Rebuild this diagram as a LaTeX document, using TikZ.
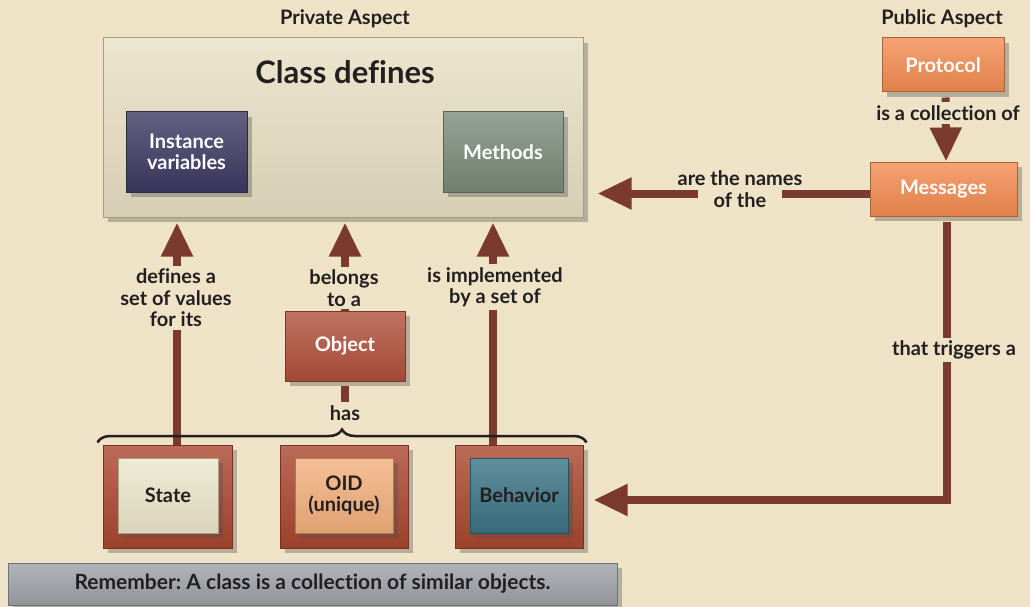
\documentclass[tikz,border=0pt]{standalone}
\usepackage{fontspec}
\setmainfont{Lato}[Ligatures=NoCommon]
\frenchspacing
\usetikzlibrary{arrows.meta,shadows,decorations.pathreplacing}

\definecolor{paper}{HTML}{EEE3C6}
\definecolor{ink}{HTML}{231F20}
\definecolor{rust}{HTML}{7B3A2F}
\definecolor{panel}{HTML}{E8E0C3}
\definecolor{navy}{HTML}{3C3962}
\definecolor{sage}{HTML}{7A8A7A}
\definecolor{tang}{HTML}{F38B50}
\definecolor{brick}{HTML}{B0503A}
\definecolor{rim}{HTML}{A9462F}
\definecolor{cream}{HTML}{ECE6CA}
\definecolor{peach}{HTML}{F2AF7B}
\definecolor{petrol}{HTML}{3B7385}
\definecolor{slate}{HTML}{9DA1A7}

\tikzset{
  txt/.style={font=\bfseries\fontsize{20}{21.5}\selectfont, text=ink, align=center},
  gap/.style={txt, fill=paper, inner sep=3pt},
  tile/.style={draw=#1!70!black, line width=1pt, top color=#1!80!white, bottom color=#1!92!black,
    drop shadow={shadow xshift=5pt, shadow yshift=-5pt, opacity=.35, fill=black!70},
    font=\bfseries\fontsize{20}{21.5}\selectfont, text=white, align=center},
  wire/.style={draw=rust, line width=8pt},
  conn/.style={wire, -{Triangle[length=34pt,width=30pt]}},
  brace/.style={draw=ink, line width=2.5pt, decorate, decoration={brace, amplitude=13pt}}
}

\begin{document}
\begin{tikzpicture}[x=1pt,y=-1pt]
\useasboundingbox[fill=paper] (0,0) rectangle (1030,607);

% private side
\node[txt] (private) at (345,19) {Private Aspect};
\node[tile=panel, minimum width=480pt, minimum height=179pt] (classbox) at (343,127.5) {};
\node[txt, font=\bfseries\fontsize{31}{33}\selectfont] (title) at (345,72) {Class defines};
\node[tile=navy, minimum width=121pt, minimum height=80pt] (instvars) at (186.5,152) {Instance\\variables};
\node[tile=sage, minimum width=120pt, minimum height=80pt] (methods) at (503,152) {Methods};

\node[tile=brick, minimum width=120pt, minimum height=70pt] (object) at (345,346) {Object};
\node[txt] (has) at (345,413) {has};

% what every object has
\node[tile=rim, minimum width=129pt, minimum height=103pt] (stateFrame) at (167.5,496.5) {};
\node[tile=cream, text=ink, minimum width=100pt, minimum height=75pt] (state) at (168,495.5) {State};
\node[tile=rim, minimum width=128pt, minimum height=103pt] (oidFrame) at (344,496.5) {};
\node[tile=peach, text=ink, minimum width=98pt, minimum height=75pt] (oid) at (344,495.5) {OID\\(unique)};
\node[tile=rim, minimum width=128pt, minimum height=103pt] (behaviorFrame) at (519,496.5) {};
\node[tile=petrol, text=ink, minimum width=98pt, minimum height=75pt] (behavior) at (519,495.5) {Behavior};

\node[tile=slate, text=ink, minimum width=609pt, minimum height=42pt,
  font=\bfseries\fontsize{21}{23}\selectfont] (remember) at (312.5,584)
  {Remember: A class is a collection of similar objects.};

% public side
\node[txt] (public) at (942,19) {Public Aspect};
\node[tile=tang, minimum width=122pt, minimum height=54pt] (protocol) at (943,65) {Protocol};
\node[tile=tang, minimum width=147pt, minimum height=54pt] (messages) at (943.5,189) {Messages};

% connectors
\draw[conn, shorten <=5pt] ([xshift=2.5pt]protocol.south) -- ([xshift=2.5pt]messages.north);
\draw[conn, shorten >=14pt] ([yshift=-4.5pt]messages.west) -- ([yshift=-4.5pt]messages.west -| classbox.east);
\draw[conn, shorten <=5pt, shorten >=10pt] ([xshift=3pt]messages.south) |- ([yshift=-3.5pt]behaviorFrame.east);
\draw[conn, shorten >=5pt] ([xshift=9.5pt]stateFrame.north) -- ([xshift=9.5pt]stateFrame.north |- classbox.south);
\draw[conn, shorten >=5pt] (object.north) -- (object.north |- classbox.south);
\draw[conn, shorten >=5pt] ([xshift=-26pt]behaviorFrame.north) -- ([xshift=-26pt]behaviorFrame.north |- classbox.south);
\draw[wire, shorten <=4pt] (object) -- (has);

% labels on the connectors
\node[gap] (collection) at (948,113) {is a collection of};
\node[gap, inner xsep=-20pt] (names) at (740,189) {are the names\\of the};
\node[gap] (triggers) at (954,350) {that triggers a};
\node[gap] (values) at (176,298) {defines a\\set of values\\for its};
\node[gap] (belongs) at (344,288) {belongs\\to a};
\node[gap] (implemented) at (495,287) {is implemented\\by a set of};

\draw[brace] ([xshift=-5pt,yshift=2pt]stateFrame.north west) -- ([xshift=3pt,yshift=2pt]behaviorFrame.north east);
\end{tikzpicture}
\end{document}
